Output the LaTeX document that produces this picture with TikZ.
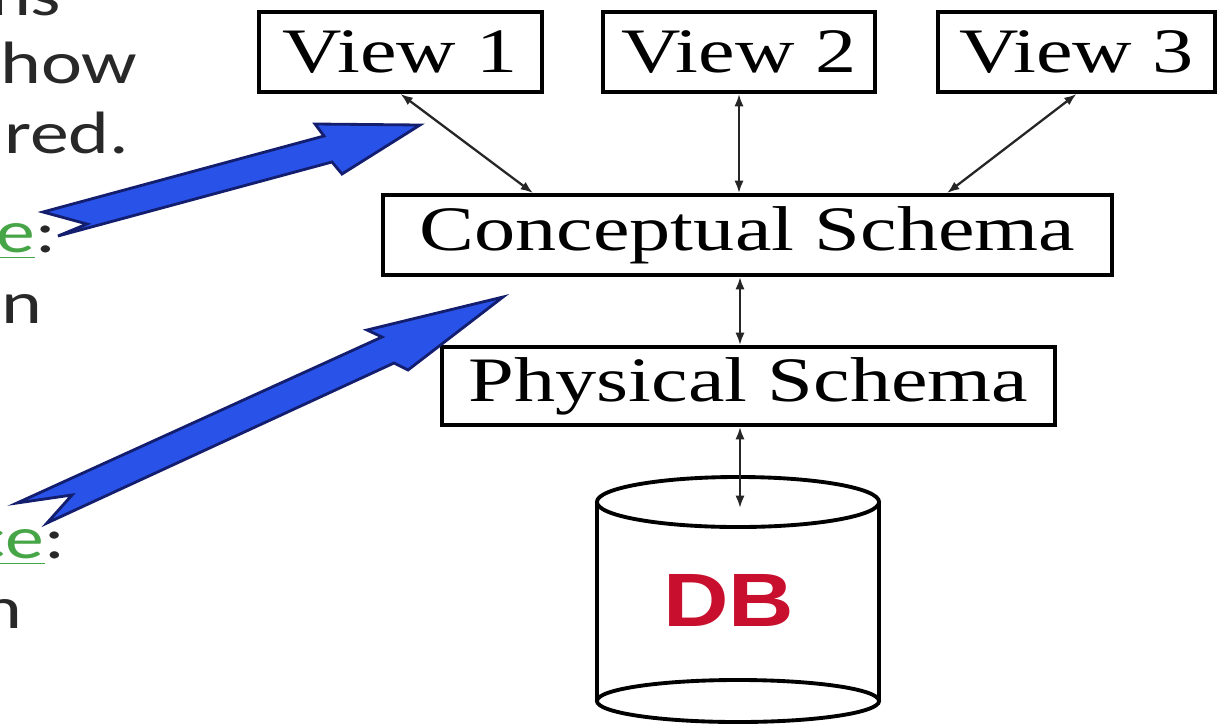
\documentclass[tikz,border=0pt]{standalone}
\usepackage{fontspec}
\setmainfont{Liberation Serif}
\newfontfamily\slidefont{Carlito}
\newfontfamily\dbfont{Liberation Sans}
\usetikzlibrary{arrows.meta,calc}
\definecolor{tgreen}{RGB}{70,165,70}
\definecolor{tgray}{RGB}{40,40,40}
\definecolor{dbred}{RGB}{200,16,46}
\definecolor{bigblue}{RGB}{40,82,232}
\definecolor{bigedge}{RGB}{20,30,110}
\newcommand{\boxtext}[1]{\scalebox{1.3}[1]{\fontsize{18}{20}\selectfont #1}}
\newcommand{\sidetext}[1]{\scalebox{1.3}[1]{\slidefont\fontsize{17}{19}\selectfont #1}}
\begin{document}
\begin{tikzpicture}[x=0.01cm,y=-0.01cm,
  schemabox/.style={draw=black, line width=1.1pt, inner sep=0pt, minimum height=0.8cm, fill=white},
  link/.style={{Latex[length=3.5pt,width=2.6pt]}-{Latex[length=3.5pt,width=2.6pt]}, line width=0.65pt, draw=black!85},
  bigarrow/.style={fill=bigblue, draw=bigedge, line width=0.8pt, line join=miter},
  side/.style={anchor=base east, inner sep=0pt, text=tgray},
  cyl/.style={draw=black, line width=1.1pt}]
\useasboundingbox (0,0) rectangle (1230,727);
\clip (0,0) rectangle (1230,727);

% schema boxes
\node[schemabox, minimum width=2.83cm] (v1) at (400.5,52) {\boxtext{View 1}};
\node[schemabox, minimum width=2.72cm] (v2) at (739,52) {\boxtext{View 2}};
\node[schemabox, minimum width=2.77cm] (v3) at (1076.5,52) {\boxtext{View 3}};
\node[schemabox, minimum width=7.29cm] (cs) at (747.5,235) {\boxtext{Conceptual Schema}};
\node[schemabox, minimum width=6.13cm, minimum height=0.78cm] (ps) at (748.5,386) {\boxtext{Physical Schema}};

% database cylinder
\draw[cyl] (738,502) ellipse [x radius=1.41cm, y radius=0.25cm];
\draw[cyl] (597,502) -- (597,701);
\draw[cyl] (879,502) -- (879,701);
\draw[cyl] (738,701) ellipse [x radius=1.41cm, y radius=0.21cm];
\node[text=dbred, inner sep=0pt] (db) at (729,600) {\scalebox{1.2}[1]{\dbfont\bfseries\fontsize{21.5}{24}\selectfont DB}};
\coordinate (dbtop) at (740,508);

% connectors
\draw[link] (v1.south) -- ([xshift=1.52cm]cs.north west);
\draw[link] (v2.south) -- (v2.south |- cs.north);
\draw[link] (v3.south) -- ([xshift=-1.67cm]cs.north east);
\draw[link] (cs.south -| dbtop) -- (ps.north -| dbtop);
\draw[link] (ps.south -| dbtop) -- (dbtop);

% big blue arrows
\draw[bigarrow] (43,212) -- (87,224) -- (58,236) -- (332,162) -- (342,174) -- (420,125) -- (315,124) -- (324,136) -- cycle;
\draw[bigarrow] (17,503) -- (72,495) -- (47,523) -- (394,363) -- (408,370) -- (503,297) -- (367,330) -- (382,337) -- cycle;

% clipped slide text on the left
\node[side] (t1) at (62,15) {\sidetext{ns}};
\node[side] (t2) at (138,83) {\sidetext{how}};
\node[side] (t3) at (130,153) {\sidetext{red.}};
\node[side] (t4) at (57,252) {\sidetext{{\color{tgreen}\underline{e}}:}};
\node[side] (t5) at (43,323) {\sidetext{in}};
\node[side] (t6) at (66,558) {\sidetext{{\color{tgreen}\underline{ce}}:}};
\node[side] (t7) at (23,628) {\sidetext{n}};
\end{tikzpicture}
\end{document}
